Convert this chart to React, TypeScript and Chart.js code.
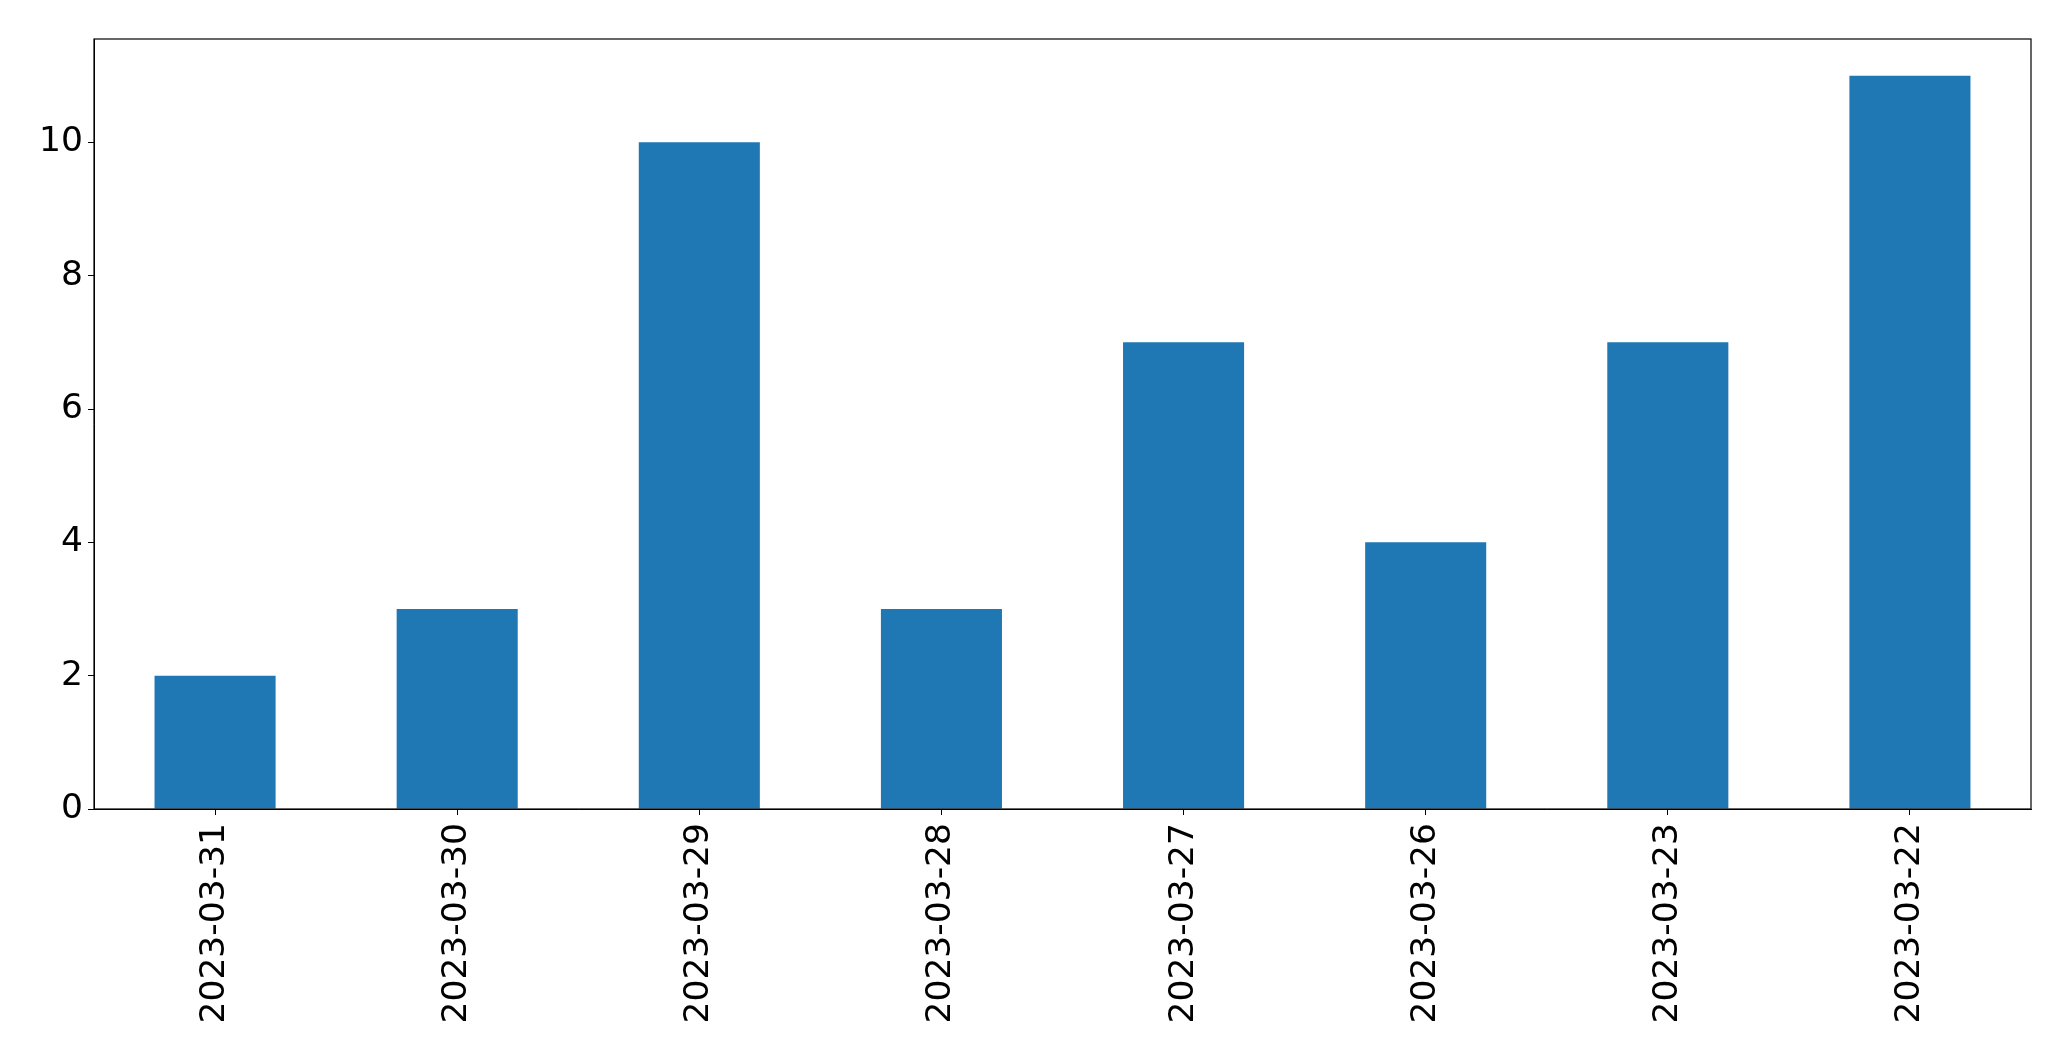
import React, { useEffect, useRef } from "react";
import { Chart, registerables } from "chart.js";

Chart.register(...registerables);

const categories = ["2023-03-31", "2023-03-30", "2023-03-29", "2023-03-28", "2023-03-27", "2023-03-26", "2023-03-23", "2023-03-22"];
const values = [2, 3, 10, 3, 7, 4, 7, 11];
const yTicks = [0, 2, 4, 6, 8, 10];
const yMax = 11.55;

const framePlugin = {
  id: "frame",
  afterDatasetsDraw(chart: any) {
    const { ctx, chartArea } = chart;
    ctx.save();
    ctx.strokeStyle = "#000";
    ctx.lineWidth = 1.2;
    ctx.strokeRect(chartArea.left, chartArea.top, chartArea.right - chartArea.left, chartArea.bottom - chartArea.top);
    ctx.restore();
  },
};

export default function App() {
  const ref = useRef<HTMLCanvasElement>(null);
  useEffect(() => {
    const font = { family: "DejaVu Sans", size: 34.5 };
    const chart = new Chart(ref.current!, {
      type: "bar",
      data: {
        labels: categories,
        datasets: [{ data: values, backgroundColor: "#1f77b4", borderWidth: 0, categoryPercentage: 1, barPercentage: 0.5 }],
      },
      options: {
        animation: false,
        responsive: false,
        maintainAspectRatio: false,
        layout: { padding: { top: 39, right: 40, left: 0, bottom: 0 } },
        plugins: { legend: { display: false }, tooltip: { enabled: false } },
        scales: {
          x: {
            offset: true,
            grid: { display: true, drawOnChartArea: false, drawTicks: true, tickLength: 6, color: "#000", offset: false },
            border: { display: true, color: "#000" },
            ticks: { color: "#000", font, maxRotation: 90, minRotation: 90, padding: 8, autoSkip: false },
            afterFit(scale: any) { scale.height = 1061 - 809; },
          },
          y: {
            min: 0,
            max: yMax,
            grid: { display: true, drawOnChartArea: false, drawTicks: true, tickLength: 6, color: "#000" },
            border: { display: true, color: "#000" },
            ticks: { color: "#000", font, padding: 5 },
            afterBuildTicks(scale: any) { scale.ticks = yTicks.map((v) => ({ value: v })); },
            afterFit(scale: any) { scale.width = 94; },
          },
        },
      },
      plugins: [framePlugin],
    });
    return () => chart.destroy();
  }, []);
  return (
    <div style={{ position: "fixed", left: 0, top: 0, width: 2071, height: 1061, background: "#fff" }}>
      <canvas ref={ref} width={2071} height={1061} />
    </div>
  );
}
